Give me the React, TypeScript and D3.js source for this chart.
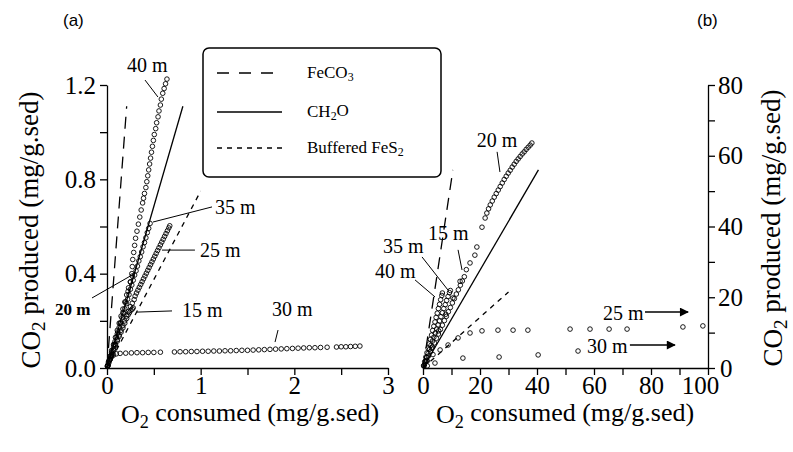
import React, { useEffect, useRef } from "react";
import * as d3 from "d3";

// axis ticks
const aXTicks = [0, 0.5, 1, 1.5, 2, 2.5, 3];
const aXLabels = [0, 1, 2, 3];
const aYTicks = [0, 0.2, 0.4, 0.6, 0.8, 1.0, 1.2];
const aYLabels = [0, 0.4, 0.8, 1.2];
const bXTicks = [0, 10, 20, 30, 40, 50, 60, 70, 80, 90, 100];
const bXLabels = [0, 20, 40, 60, 80, 100];
const bYTicks = [0, 10, 20, 30, 40, 50, 60, 70, 80];
const bYLabels = [0, 20, 40, 60, 80];

// stoichiometric reference lines
const aFeCO3 = [[0, 0], [0.21, 1.11]];
const aCH2O = [[0, 0], [0.81, 1.11]];
const aFeS2 = [[0, 0], [1.0, 0.75]];
const bFeCO3 = [[0, 0], [10.5, 56]];
const bCH2O = [[0, 0], [40.5, 56]];
const bFeS2 = [[0, 0], [30, 21.5]];

// panel (a) measurements
const a40 = [[0.01, 0.01], [0.03, 0.035], [0.05, 0.065], [0.08, 0.1], [0.11, 0.145], [0.14, 0.19], [0.17, 0.235], [0.2, 0.28], [0.225, 0.325], [0.25, 0.365], [0.265, 0.4], [0.27, 0.43], [0.275, 0.46], [0.285, 0.49], [0.295, 0.52], [0.305, 0.55], [0.32, 0.58], [0.335, 0.61], [0.35, 0.64], [0.365, 0.67], [0.38, 0.7], [0.39, 0.72], [0.4, 0.74], [0.415, 0.765], [0.425, 0.79], [0.435, 0.815], [0.445, 0.84], [0.455, 0.865], [0.465, 0.89], [0.475, 0.915], [0.485, 0.94], [0.495, 0.965], [0.505, 0.99], [0.52, 1.015], [0.53, 1.04], [0.545, 1.065], [0.555, 1.09], [0.57, 1.115], [0.58, 1.14], [0.595, 1.165], [0.61, 1.185], [0.625, 1.205], [0.64, 1.225]];
const a35 = [[0.01, 0.012], [0.025, 0.031], [0.04, 0.052], [0.055, 0.071], [0.07, 0.093], [0.085, 0.112], [0.1, 0.131], [0.115, 0.153], [0.13, 0.172], [0.145, 0.191], [0.16, 0.213], [0.175, 0.232], [0.19, 0.251], [0.205, 0.273], [0.22, 0.292], [0.235, 0.311], [0.25, 0.334], [0.265, 0.352], [0.28, 0.372], [0.295, 0.394], [0.31, 0.412], [0.325, 0.432], [0.34, 0.454], [0.355, 0.472], [0.37, 0.492], [0.385, 0.514], [0.4, 0.532], [0.415, 0.552], [0.43, 0.574], [0.445, 0.592], [0.46, 0.613]];
const a25 = [[0.01, 0.012], [0.03, 0.035], [0.05, 0.06], [0.07, 0.08], [0.09, 0.1], [0.11, 0.12], [0.13, 0.14], [0.15, 0.16], [0.17, 0.18], [0.19, 0.2], [0.21, 0.22], [0.23, 0.24], [0.25, 0.26], [0.27, 0.275], [0.29, 0.29], [0.3, 0.305], [0.315, 0.318], [0.33, 0.33], [0.345, 0.342], [0.36, 0.354], [0.375, 0.366], [0.39, 0.378], [0.405, 0.39], [0.42, 0.402], [0.435, 0.414], [0.45, 0.426], [0.465, 0.438], [0.48, 0.45], [0.495, 0.462], [0.51, 0.474], [0.525, 0.486], [0.54, 0.498], [0.555, 0.51], [0.57, 0.522], [0.585, 0.534], [0.6, 0.546], [0.615, 0.558], [0.63, 0.57], [0.645, 0.582], [0.66, 0.594], [0.67, 0.603]];
const a20 = [[0.005, 0.008], [0.02, 0.03], [0.035, 0.05], [0.05, 0.075], [0.07, 0.1], [0.09, 0.13], [0.11, 0.16], [0.13, 0.19], [0.15, 0.22], [0.17, 0.25], [0.19, 0.28], [0.21, 0.31], [0.23, 0.34], [0.25, 0.365], [0.27, 0.39]];
const a15 = [[0.005, 0.006], [0.02, 0.022], [0.035, 0.038], [0.05, 0.054], [0.07, 0.074], [0.09, 0.094], [0.11, 0.114], [0.13, 0.134], [0.15, 0.152], [0.17, 0.17], [0.19, 0.19], [0.21, 0.21], [0.225, 0.225], [0.24, 0.235], [0.255, 0.245], [0.27, 0.25], [0.28, 0.255]];
const a30 = [[0.005, 0.01], [0.015, 0.025], [0.03, 0.038], [0.05, 0.048], [0.07, 0.055], [0.1, 0.06],
  [0.14, 0.062], [0.2, 0.063], [0.26, 0.064], [0.32, 0.065], [0.38, 0.065], [0.44, 0.066], [0.5, 0.066], [0.57, 0.067],
  [0.72, 0.068], [0.78, 0.069], [0.84, 0.069], [0.9, 0.07], [0.96, 0.07], [1.02, 0.071], [1.08, 0.071], [1.14, 0.072], [1.2, 0.072], [1.26, 0.073], [1.32, 0.073], [1.38, 0.074], [1.44, 0.075], [1.5, 0.075], [1.56, 0.076], [1.62, 0.077], [1.68, 0.078], [1.74, 0.079], [1.8, 0.08], [1.86, 0.081], [1.92, 0.082], [1.98, 0.083], [2.04, 0.084], [2.1, 0.085], [2.16, 0.086], [2.22, 0.086], [2.28, 0.087], [2.35, 0.088],
  [2.45, 0.089], [2.5, 0.09], [2.55, 0.09], [2.6, 0.091], [2.65, 0.092], [2.7, 0.093]];

// panel (b) measurements
const b40 = [[0.2, 0.6], [0.6, 1.8], [1.0, 3.1], [1.4, 4.3], [1.8, 5.6], [2.2, 6.8], [2.6, 8.1], [3.0, 9.3], [3.4, 10.6], [3.8, 11.8], [4.2, 13.0], [4.6, 14.3], [5.0, 15.5], [5.4, 16.8], [5.8, 18.0], [6.2, 19.3], [6.6, 20.5], [6.8, 21.2]];
const b35 = [[0.3, 0.7], [0.8, 1.8], [1.3, 3.0], [1.8, 4.1], [2.3, 5.3], [2.8, 6.4], [3.3, 7.6], [3.8, 8.7], [4.3, 9.9], [4.8, 11.0], [5.3, 12.2], [5.8, 13.3], [6.3, 14.5], [6.8, 15.6], [7.3, 16.8], [7.8, 17.9], [8.3, 19.1], [8.8, 20.2], [9.3, 21.3], [9.6, 21.9]];
const b15 = [[0.5, 0.9], [1.2, 2.1], [1.9, 3.4], [2.6, 4.6], [3.3, 5.9], [4.0, 7.1], [4.7, 8.4], [5.4, 9.6], [6.1, 10.9], [6.8, 12.1], [7.5, 13.4], [8.2, 14.6], [8.9, 15.9], [9.6, 17.1], [10.3, 18.4], [11.0, 19.6], [11.7, 20.9], [12.4, 22.1], [13.1, 23.4], [13.8, 24.6], [14.5, 25.8]];
const b20 = [[1, 1.8], [3, 5.6], [5.5, 10.5], [8, 15.2], [10.5, 19.8], [13, 24.5], [15.2, 27.8], [16.5, 29.7], [18.2, 31.9], [18.9, 34.2], [20.7, 39.8], [21.8, 42.4], [22.4, 43.8], [23.0, 45.0], [23.6, 46.1], [24.3, 47.2], [25.0, 48.3], [25.7, 49.3], [26.4, 50.3], [27.1, 51.3], [27.8, 52.3], [28.5, 53.3], [29.2, 54.2], [29.9, 55.1], [30.6, 55.9], [31.3, 56.8], [32.0, 57.6], [32.7, 58.4], [33.4, 59.1], [34.1, 59.8], [34.8, 60.5], [35.5, 61.1], [36.2, 61.8], [36.9, 62.4], [37.6, 63.0], [38.2, 63.6]];
const b25 = [[1.5, 2], [3.5, 3.8], [6, 5.1], [8.8, 6.5], [12.3, 8.5], [16.5, 9.9], [20.7, 10.5], [26.3, 10.7], [31.6, 10.7], [36.8, 10.7], [51.6, 11.0], [58.6, 11.0], [65.3, 11.0], [71.6, 11.0], [91.2, 11.6], [98.2, 11.9]];
const b30 = [[1.5, 0.6], [4.2, 1.4], [14, 2.8], [26.7, 3.1], [40.4, 3.7], [54.4, 4.8]];

// depth labels: text anchor + leader from/to, in data units
const aNotes = [
  { t: "40 m", p: [0.213, 1.255], l: [[0.406, 1.221], [0.544, 1.149]] },
  { t: "35 m", p: [1.153, 0.653], l: [[1.121, 0.683], [0.491, 0.619]] },
  { t: "25 m", p: [0.993, 0.471], l: [[0.939, 0.5], [0.587, 0.5]] },
  { t: "15 m", p: [0.8, 0.216], l: [[0.694, 0.242], [0.32, 0.237]] },
  { t: "20 m", p: [-0.555, 0.225], l: [[-0.16, 0.297], [0.267, 0.394]], small: true },
  { t: "30 m", p: [1.761, 0.22], l: [[1.826, 0.161], [1.794, 0.11]] },
];
const bNotes = [
  { t: "20 m", p: [18.9, 62.5], l: [[26, 61.1], [27, 55.4]] },
  { t: "15 m", p: [1.75, 36.2], l: [[12.3, 33.4], [13.7, 27.7]] },
  { t: "35 m", p: [-14, 32.5], l: [[-0.35, 31.4], [8.8, 22.0]] },
  { t: "40 m", p: [-16.8, 25.4], l: [[-2.8, 24.9], [4.2, 20.1]] },
  { t: "25 m", p: [63.2, 13.6], l: [[77.9, 15.8], [93, 15.8]], arrow: true },
  { t: "30 m", p: [57.5, 4.2], l: [[72.6, 6.5], [88.4, 6.5]], arrow: true },
];

const serif = "'Liberation Serif','Times New Roman',serif";

export default function App() {
  const ref = useRef(null);

  useEffect(() => {
    const svg = d3.select(ref.current);
    svg.selectAll("*").remove();

    svg.append("defs").append("marker")
      .attr("id", "arr").attr("viewBox", "0 0 10 10").attr("refX", 9).attr("refY", 5)
      .attr("markerWidth", 12).attr("markerHeight", 9).attr("markerUnits", "userSpaceOnUse")
      .attr("orient", "auto")
      .append("path").attr("d", "M0,0L10,5L0,10z").attr("fill", "#000");

    const xA = d3.scaleLinear().domain([0, 3]).range([107, 388]);
    const yA = d3.scaleLinear().domain([0, 1.2]).range([368, 85]);
    const xB = d3.scaleLinear().domain([0, 100]).range([423, 708]);
    const yB = d3.scaleLinear().domain([0, 80]).range([368, 85]);

    const styleAxis = (g) => {
      g.attr("font-family", serif).attr("font-size", 25);
      g.selectAll("path,line").attr("stroke", "#000").attr("stroke-width", 1.3);
      g.selectAll("text").attr("fill", "#000");
    };

    svg.append("g").attr("transform", "translate(0,368)")
      .call(d3.axisBottom(xA).tickValues(aXTicks).tickFormat(d => aXLabels.includes(d) ? String(d) : "")
        .tickSize(7).tickSizeOuter(0).tickPadding(1))
      .call(styleAxis);
    svg.append("g").attr("transform", "translate(107,0)")
      .call(d3.axisLeft(yA).tickValues(aYTicks).tickFormat(d => aYLabels.includes(d) ? d3.format(".1f")(d) : "")
        .tickSize(7).tickSizeOuter(0).tickPadding(4))
      .call(styleAxis);
    svg.append("g").attr("transform", "translate(0,368)")
      .call(d3.axisBottom(xB).tickValues(bXTicks).tickFormat(d => bXLabels.includes(d) ? String(d) : "")
        .tickSize(7).tickSizeOuter(0).tickPadding(1))
      .call(styleAxis)
      .call(g => g.selectAll("text").filter(d => d === 100).attr("dx", -8));
    svg.append("g").attr("transform", "translate(708,0)")
      .call(d3.axisRight(yB).tickValues(bYTicks).tickFormat(d => bYLabels.includes(d) ? String(d) : "")
        .tickSize(7).tickSizeOuter(0).tickPadding(3))
      .call(styleAxis)
      .call(g => g.selectAll("text").filter(d => d === 0).attr("dx", 2));

    const panel = (x, y, lines, series, notes) => {
      const line = d3.line().x(d => x(d[0])).y(d => y(d[1]));
      lines.forEach(([data, dash]) => {
        svg.append("path").attr("d", line(data)).attr("fill", "none")
          .attr("stroke", "#000").attr("stroke-width", 1.3)
          .attr("stroke-dasharray", dash);
      });
      series.forEach(s => {
        svg.append("g").selectAll("circle").data(s).enter().append("circle")
          .attr("cx", d => x(d[0])).attr("cy", d => y(d[1])).attr("r", 2.3)
          .attr("fill", "none").attr("stroke", "#000").attr("stroke-width", 0.9);
      });
      notes.forEach(n => {
        svg.append("line")
          .attr("x1", x(n.l[0][0])).attr("y1", y(n.l[0][1]))
          .attr("x2", x(n.l[1][0])).attr("y2", y(n.l[1][1]))
          .attr("stroke", "#000").attr("stroke-width", n.arrow ? 1.5 : 1)
          .attr("marker-end", n.arrow ? "url(#arr)" : null);
        svg.append("text").attr("x", x(n.p[0])).attr("y", y(n.p[1]))
          .attr("font-family", serif).attr("font-size", n.small ? 17 : 20)
          .attr("font-weight", n.small ? "bold" : "normal").text(n.t);
      });
    };

    panel(xA, yA, [[aFeCO3, "12,8"], [aCH2O, null], [aFeS2, "5,5"]], [a30, a15, a20, a25, a35, a40], aNotes);
    panel(xB, yB, [[bFeCO3, "12,8"], [bCH2O, null], [bFeS2, "5,5"]], [b30, b25, b15, b20, b35, b40], bNotes);

    // axis titles
    const sub = (t, a, s, b) => {
      t.append("tspan").text(a);
      t.append("tspan").attr("font-size", "0.7em").attr("dy", "0.28em").text(s);
      t.append("tspan").attr("dy", "-0.28em").text(b);
    };
    [250, 565].forEach(cx => {
      const t = svg.append("text").attr("x", cx).attr("y", 423).attr("text-anchor", "middle")
        .attr("font-family", serif).attr("font-size", 26);
      sub(t, "O", "2", " consumed (mg/g.sed)");
    });
    [[40, 230], [782, 228]].forEach(([tx, ty]) => {
      const t = svg.append("text").attr("transform", `translate(${tx},${ty}) rotate(-90)`)
        .attr("text-anchor", "middle").attr("font-family", serif).attr("font-size", 27);
      sub(t, "CO", "2", " produced (mg/g.sed)");
    });

    svg.append("text").attr("x", 63).attr("y", 26).attr("font-family", "'Liberation Sans',Arial,sans-serif")
      .attr("font-size", 17).text("(a)");
    svg.append("text").attr("x", 697).attr("y", 26).attr("font-family", "'Liberation Sans',Arial,sans-serif")
      .attr("font-size", 17).text("(b)");

    // legend
    const lg = svg.append("g");
    lg.append("rect").attr("x", 203).attr("y", 48).attr("width", 238).attr("height", 129).attr("rx", 6)
      .attr("fill", "#fff").attr("stroke", "#000").attr("stroke-width", 1.5);
    const items = [["12,10", 73, "FeCO", "3", ""], [null, 112, "CH", "2", "O"], ["5,5", 148, "Buffered FeS", "2", ""]];
    items.forEach(([dash, yy, a, s, b]) => {
      lg.append("line").attr("x1", 217).attr("x2", 282).attr("y1", yy).attr("y2", yy)
        .attr("stroke", "#000").attr("stroke-width", 1.5).attr("stroke-dasharray", dash);
      const t = lg.append("text").attr("x", 307).attr("y", yy + 5)
        .attr("font-family", serif).attr("font-size", 17);
      sub(t, a, s, b);
    });
  }, []);

  return (
    <svg ref={ref} width={793} height={452}
      style={{ position: "absolute", left: 0, top: 0, background: "#fff" }} />
  );
}
